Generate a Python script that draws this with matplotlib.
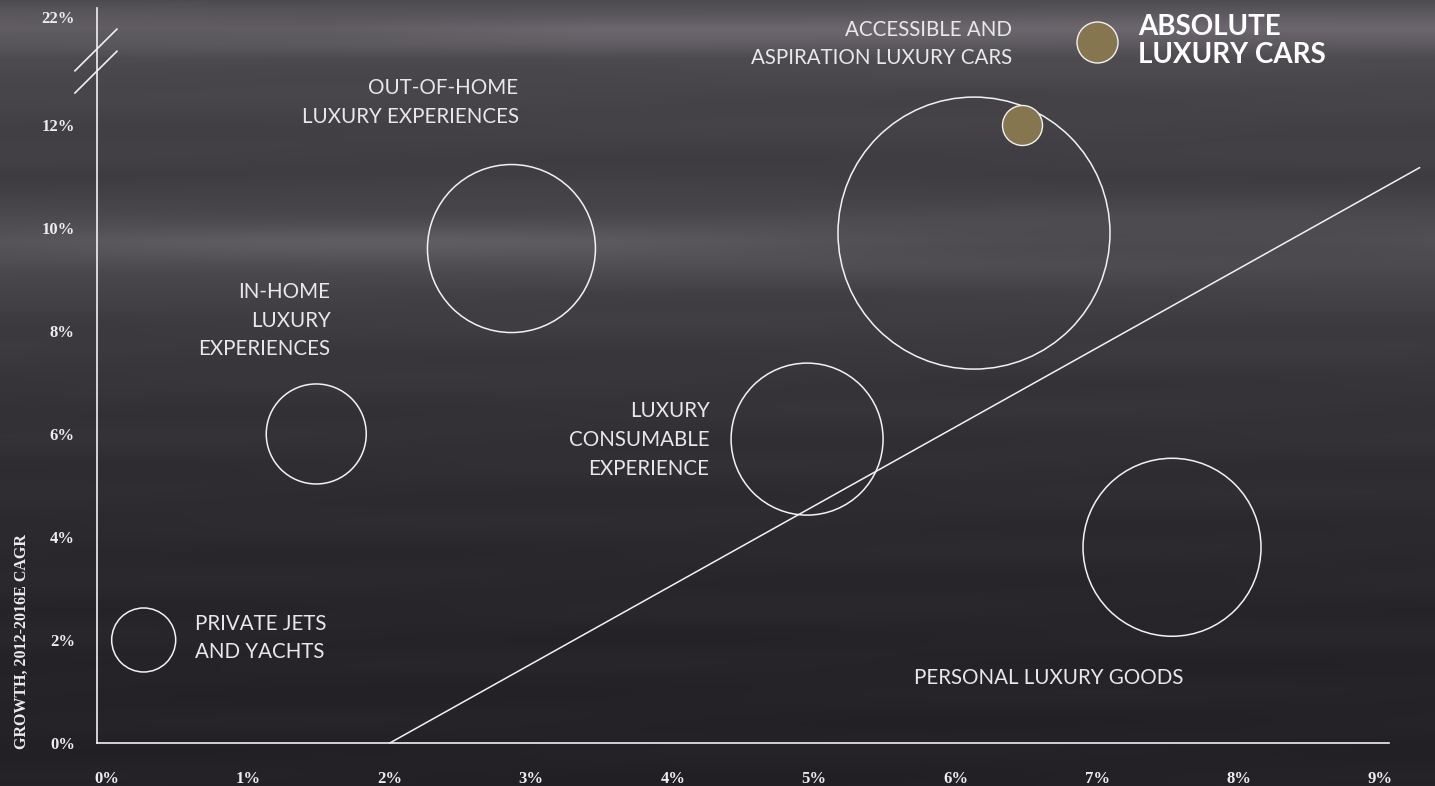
import numpy as np
import matplotlib.pyplot as plt

# market growth vs. growth, bubble = segment size
segments = ["PRIVATE JETS", "IN-HOME", "OUT-OF-HOME", "CONSUMABLE", "ACCESSIBLE CARS", "PERSONAL GOODS"]
x_growth = [0.26, 1.48, 2.86, 4.95, 6.13, 7.53]
y_growth = [2.0, 6.0, 9.6, 5.9, 9.9, 3.8]
seg_size = [32, 50, 84, 76, 136, 89]

abs_x = [6.47]
abs_y = [12.0]
abs_size = [20]

trend_x = [2.0, 9.28]
trend_y = [0.0, 11.17]

x_ticks = [0, 1, 2, 3, 4, 5, 6, 7, 8, 9]
y_ticks = [0, 2, 4, 6, 8, 10, 12]
y_break_pos = 14.1
y_break_label = "22%"

W, H = 1435, 786
fig = plt.figure(figsize=(W / 100, H / 100), dpi=100)

# streaky dark background
bg = fig.add_axes([0, 0, 1, 1])
yy = np.arange(H)
xx = np.arange(W)
ky = [0, 15, 28, 42, 58, 90, 130, 175, 205, 240, 262, 292, 330, 380, 430, 480, 560, 650, 786]
kv = [76, 90, 104, 94, 76, 70, 66, 62, 70, 85, 79, 66, 60, 54, 50, 46, 41, 37, 34]
prof = np.interp(yy, ky, kv)
ramp = np.clip(xx / 600.0, 0.55, 1.0)
top_band = np.exp(-((yy - 30) / 14.0) ** 2)[:, None] * 22 * (ramp[None, :] - 1.0)
mid_band = np.exp(-((yy - 245) / 18.0) ** 2)[:, None] * 8 * np.sin(xx / 260.0)[None, :]
streaks = 2.0 * np.sin(yy / 9.0)[:, None] * np.cos(xx / 220.0 + yy[:, None] / 50.0)
val = prof[:, None] + top_band + mid_band + streaks
tint = np.exp(-((yy - 28) / 16.0) ** 2)[:, None] * 3 * ramp[None, :]
img = np.stack([val + 1 + tint, val - 1, val + 4 + tint * 0.6], axis=-1) / 255.0
bg.imshow(np.clip(img, 0, 1), aspect="auto", extent=[0, 1, 0, 1], zorder=0)
bg.axis("off")

ax = fig.add_axes([97 / W, (H - 743) / H, (1389 - 97) / W, (743 - 8) / H])
ax.patch.set_alpha(0)
ax.set_xlim(-0.07, 9.064)
ax.set_ylim(0, 14.27)

for s in ["top", "right"]:
    ax.spines[s].set_visible(False)
for s in ["left", "bottom"]:
    ax.spines[s].set_color("#f0f0f0")
    ax.spines[s].set_linewidth(1.2)

tick_font = dict(family="Liberation Serif", weight="bold", size=12, color="#ededed")
ax.set_xticks(x_ticks)
ax.set_xticklabels([f"{t}%" for t in x_ticks], **tick_font)
ax.set_yticks(y_ticks + [y_break_pos])
ax.set_yticklabels([f"{t}%" for t in y_ticks] + [y_break_label], **tick_font)
ax.tick_params(axis="x", length=0, pad=20)
ax.tick_params(axis="y", length=0, pad=16)

# axis break marks
for dy in [0.0, -0.43]:
    ax.plot([-0.226, 0.0707], [13.05 + dy, 13.86 + dy], color="#f0f0f0", lw=1.2, clip_on=False)

fig.text(22 / W, (H - 749) / H, "GROWTH, 2012-2016E CAGR", rotation=90, ha="center", va="bottom",
         family="Liberation Serif", weight="bold", size=11.5, color="#ededed")

# trend line
ax.plot(trend_x, trend_y, color="#f2f2f2", lw=1.1, clip_on=False, zorder=2)

# segment bubbles
sizes = [(2 * r * 0.72) ** 2 for r in seg_size]
ax.scatter(x_growth, y_growth, s=sizes, facecolors="none", edgecolors="#f2f2f2", linewidths=1.1, zorder=3)

gold = "#857650"
ax.scatter(abs_x, abs_y, s=[(2 * r * 0.72) ** 2 for r in abs_size], color=gold,
           edgecolors="#f2f2f2", linewidths=1.0, zorder=4)

lab = dict(family="Lato", size=14.8, color="#e8e8e8", linespacing=1.55)
ax.text(0.62, 2.04, "PRIVATE JETS\nAND YACHTS", ha="left", va="center", **lab)
ax.text(1.58, 8.2, "IN-HOME\nLUXURY\nEXPERIENCES", ha="right", va="center", multialignment="right", **lab)
ax.text(2.91, 12.43, "OUT-OF-HOME\nLUXURY EXPERIENCES", ha="right", va="center", multialignment="right", **lab)
ax.text(4.26, 5.88, "LUXURY\nCONSUMABLE\nEXPERIENCE", ha="right", va="center", multialignment="right", **lab)
ax.text(6.40, 13.57, "ACCESSIBLE AND\nASPIRATION LUXURY CARS", ha="right", va="center",
        multialignment="right", clip_on=False, **lab)
ax.text(6.66, 1.26, "PERSONAL LUXURY GOODS", ha="center", va="center", **lab)

# legend marker
ax.scatter([7.0], [13.61], s=(2 * 20.5 * 0.72) ** 2, color=gold, edgecolors="#f2f2f2",
           linewidths=1.0, clip_on=False, zorder=4)
ax.text(7.29, 13.63, "ABSOLUTE\nLUXURY CARS", ha="left", va="center", family="Lato", weight="bold",
        size=20, color="#ffffff", linespacing=1.12, clip_on=False)

fig.savefig("out.png", dpi=100)
